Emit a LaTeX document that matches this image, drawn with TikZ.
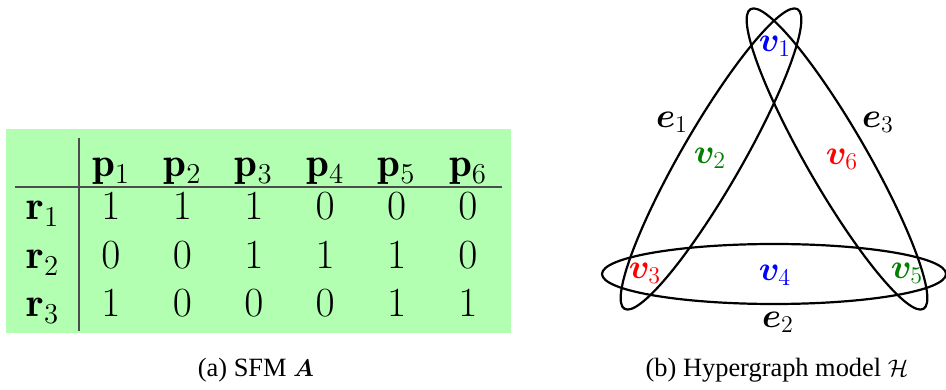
\documentclass[tikz,border=0pt]{standalone}
\usepackage{amsmath,amssymb}
\usepackage{bm}
\usepackage{fontspec}
\newfontfamily\capfont{Liberation Serif}
\usepackage{tikz}
\definecolor{sfmgreen}{rgb}{0.7,1,0.7}
\definecolor{vgreen}{rgb}{0,0.5,0}

\begin{document}
\begin{tikzpicture}[x=0.5pt,y=0.5pt,
    cell/.style={anchor=base, font=\fontsize{20.5}{24}\selectfont},
    vlabel/.style={font=\fontsize{17}{20}\selectfont},
    hedge/.style={line width=1.1pt},
    caption/.style={font=\capfont\fontsize{13.2}{16}\selectfont}]
    \useasboundingbox (0,0) rectangle (946,390);

    % SFM table
    \fill[sfmgreen] (6,57) rectangle (511,261);
    \draw[black!70, line width=0.7pt] (15,203) -- (502,203);
    \draw[black!70, line width=0.7pt] (79,59) -- (79,252);

    % Column heads
    \foreach \j in {1,...,6}{
        \node[cell] (p\j) at ({111+71.4*(\j-1)},213) {$\mathbf{p}_{\j}$};
    }
    % Row heads
    \node[cell] (r1) at (43,170) {$\mathbf{r}_1$};
    \node[cell] (r2) at (43,121) {$\mathbf{r}_2$};
    \node[cell] (r3) at (43,73)  {$\mathbf{r}_3$};
    % Entries
    \foreach \v [count=\j] in {1,1,1,0,0,0}
        \node[cell] (a1\j) at ({111+71.4*(\j-1)},170) {$\v$};
    \foreach \v [count=\j] in {0,0,1,1,1,0}
        \node[cell] (a2\j) at ({111+71.4*(\j-1)},121) {$\v$};
    \foreach \v [count=\j] in {1,0,0,0,1,1}
        \node[cell] (a3\j) at ({111+71.4*(\j-1)},73) {$\v$};

    % Hyperedges
    \draw[hedge] (774,116) ellipse [x radius=86pt, y radius=15pt];
    \draw[hedge, rotate around={60:(711,231)}] (711,231) ellipse [x radius=86.5pt, y radius=15pt];
    \draw[hedge, rotate around={-60:(837,231)}] (837,231) ellipse [x radius=86.5pt, y radius=15pt];

    % Vertices
    \node[vlabel, blue]   (v1) at (775,344) {$\bm{v}_1$};
    \node[vlabel, vgreen] (v2) at (710,232) {$\bm{v}_2$};
    \node[vlabel, red]    (v3) at (645,117) {$\bm{v}_3$};
    \node[vlabel, blue]   (v4) at (775,115) {$\bm{v}_4$};
    \node[vlabel, vgreen] (v5) at (907,117) {$\bm{v}_5$};
    \node[vlabel, red]    (v6) at (842,231) {$\bm{v}_6$};

    % Hyperedge labels
    \node[vlabel] (e1) at (672,268) {$\bm{e}_1$};
    \node[vlabel] (e2) at (778,68)  {$\bm{e}_2$};
    \node[vlabel] (e3) at (878,268) {$\bm{e}_3$};

    % Captions
    \node[caption] (capa) at (256,20) {(a)\ SFM $\bm{A}$};
    \node[caption] (capb) at (777,20) {(b)\ Hypergraph model $\mathcal{H}$};
\end{tikzpicture}
\end{document}
